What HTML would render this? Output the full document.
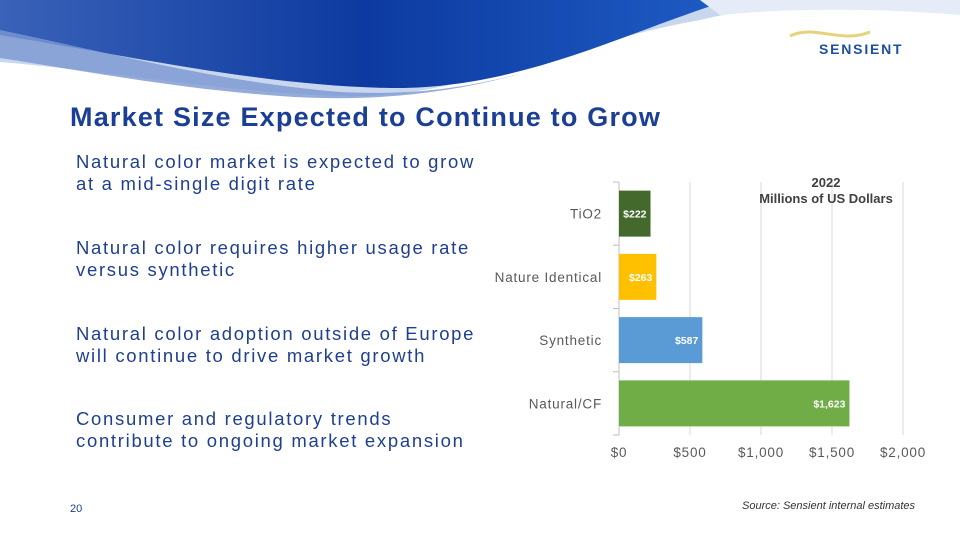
<!DOCTYPE html>
<html><head><meta charset="utf-8"><style>
body{margin:0;width:960px;height:540px;overflow:hidden;background:#fff;font-family:"Liberation Sans",sans-serif;position:relative}
.bul{position:absolute;left:76px;color:#1f3f8f;font-size:18.5px;letter-spacing:1.7px;line-height:22px;white-space:nowrap}
</style></head><body>
<svg width="960" height="110" style="position:absolute;left:0;top:0">
<defs><linearGradient id="g1" x1="0" x2="1"><stop offset="0" stop-color="#3a62b8"/><stop offset="0.5" stop-color="#0d3aa0"/><stop offset="1" stop-color="#1e5cc4"/></linearGradient></defs>
<path d="M0 0H960V12C850 0 760 5 700 20C560 45 460 100 340 96C220 92 100 70 0 62Z" fill="#c8d6ee"/>
<path d="M0 0H730C630 30 520 90 390 88C270 86 150 60 0 35Z" fill="url(#g1)"/>
<path d="M0 30C120 55 220 82 340 92C420 96 470 86 520 74C440 96 360 102 280 96C170 88 80 70 0 58Z" fill="#7a97d2" opacity="0.8"/>
<path d="M700 0H960V15C880 8 790 8 720 15Z" fill="#e6ecf7"/>
</svg>
<svg width="100" height="30" style="position:absolute;left:785px;top:24px"><path d="M5 12C30 0 55 20 85 8" stroke="#e5d27a" stroke-width="3" fill="none"/></svg>
<div style="position:absolute;left:819px;top:41px;font-size:14px;font-weight:bold;color:#1f4fa0;letter-spacing:1.8px">SENSIENT</div>
<div style="position:absolute;left:70px;top:102px;font-size:27px;font-weight:bold;color:#1b3f94;letter-spacing:1.2px;white-space:nowrap">Market Size Expected to Continue to Grow</div>
<div class="bul" style="top:151px">Natural color market is expected to grow<br>at a mid-single digit rate</div>
<div class="bul" style="top:237px">Natural color requires higher usage rate<br>versus synthetic</div>
<div class="bul" style="top:323px">Natural color adoption outside of Europe<br>will continue to drive market growth</div>
<div class="bul" style="top:408px">Consumer and regulatory trends<br>contribute to ongoing market expansion</div>
<div style="position:absolute;left:70px;top:503px;font-size:11px;color:#1f3f8f">20</div>
<div style="position:absolute;left:742px;top:500px;font-size:11px;font-style:italic;color:#333">Source: Sensient internal estimates</div>
<svg id="chart" width="960" height="540" style="position:absolute;left:0;top:0"></svg>
<script>
const categories=["TiO2","Nature Identical","Synthetic","Natural/CF"];
const values=[222,263,587,1623];
const labels=["$222","$263","$587","$1,623"];
const colors=["#436a2c","#ffc000","#5b9bd5","#70ad47"];
const ticks=[0,500,1000,1500,2000];
const tickLabels=["$0","$500","$1,000","$1,500","$2,000"];
const svg=document.getElementById('chart');const NS="http://www.w3.org/2000/svg";
const x0=619,x1=903,yTop=182,yBot=435;
const xs=v=>x0+(v/2000)*(x1-x0);
const band=(yBot-yTop)/categories.length;
function el(t,a){const e=document.createElementNS(NS,t);for(const k in a)e.setAttribute(k,a[k]);svg.appendChild(e);return e;}
ticks.forEach((t,i)=>{
 const g=el('line',{x1:xs(t),x2:xs(t),y1:yTop,y2:yBot,stroke:i?"#d9d9d9":"#bfbfbf","stroke-width":1});
 
 
 const tx=el('text',{x:xs(t),y:457,"text-anchor":"middle","font-size":13.5,fill:"#595959","letter-spacing":"0.8"});
 tx.textContent=tickLabels[i];
 
 
});
for(let i=0;i<=categories.length;i++){const l=el('line',{x1:x0-6,x2:x0,y1:yTop+i*band,y2:yTop+i*band,stroke:"#bfbfbf"});
 
 }
categories.forEach((c,i)=>{
 const yc=yTop+band*(i+0.5),h=46;
 const r=el('rect',{x:x0,y:yc-h/2,width:xs(values[i])-x0,height:h,fill:colors[i]});
 
 
 const t=el('text',{x:xs(values[i])-4,y:yc+4,"text-anchor":"end","font-size":10.5,"font-weight":"bold",fill:"#fff"});
 t.textContent=labels[i];
 
 
 const cl=el('text',{x:602,y:yc+5,"text-anchor":"end","font-size":13.5,fill:"#595959","letter-spacing":"0.8"});
 cl.textContent=c;
 
 
});
const t1=el('text',{x:826,y:187,"text-anchor":"middle","font-size":13,"font-weight":"bold",fill:"#404040"});t1.textContent="2022";


const t2=el('text',{x:826,y:203,"text-anchor":"middle","font-size":13,"font-weight":"bold",fill:"#404040"});t2.textContent="Millions of US Dollars";


</script>
</body></html>
